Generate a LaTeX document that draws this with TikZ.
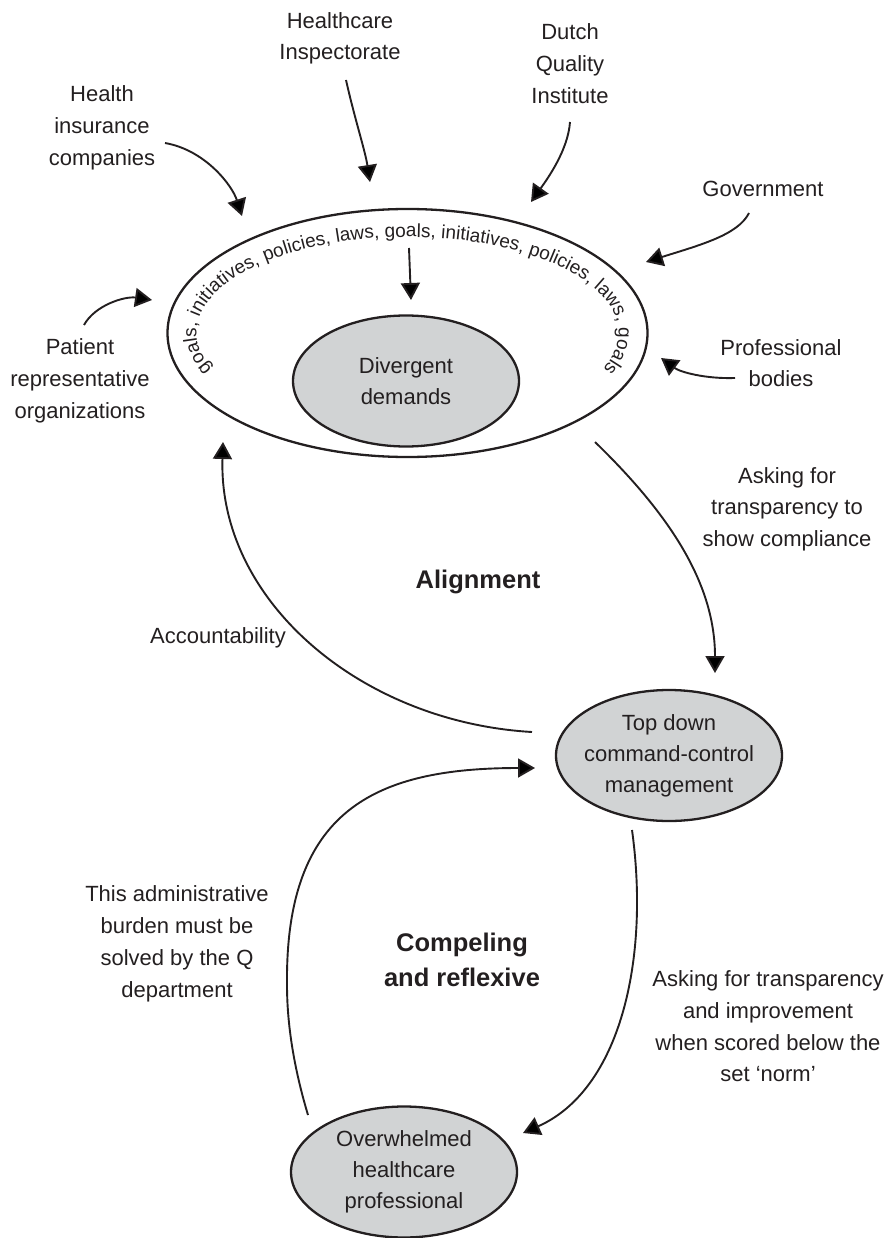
\documentclass[tikz,border=0pt]{standalone}
\usepackage{fontspec}
\setmainfont{Liberation Sans}
\usetikzlibrary{arrows.meta,shapes.geometric,decorations.text}
\definecolor{ink}{RGB}{35,31,32}
\definecolor{fillg}{RGB}{209,211,212}
\newcommand\lbfont{\fontsize{22}{31.7}\selectfont}
\newcommand\bdfont{\fontsize{25.5}{35}\selectfont\bfseries}
\newcommand\ringfont{\fontsize{19}{19}\selectfont}
\begin{document}
\begin{tikzpicture}[x=1pt,y=-1pt,
  lbl/.style={text=ink, font=\lbfont, align=center, inner sep=0pt},
  boldlbl/.style={text=ink, font=\bdfont, align=center, inner sep=0pt},
  gell/.style={ellipse, draw=ink, line width=2.3pt, fill=fillg, minimum width=226pt, minimum height=131pt,
    inner xsep=-40pt, inner ysep=-30pt, text=ink, font=\fontsize{22}{31}\selectfont, align=center},
  arr/.style={draw=ink, line width=1.9pt, -{Triangle[length=17pt,width=19pt]}},
]
\useasboundingbox (0,0) rectangle (889,1238);

% big ellipse
\node[ellipse, draw=ink, line width=2.3pt, minimum width=480pt, minimum height=248pt, inner sep=0pt] (big) at (407.5,333) {};
\path[decorate, decoration={text along path, text align=center, text color=ink,
    text={|\ringfont|goals, initiatives, policies, laws, goals, initiatives, policies, laws, goals}}]
  (big.center) ++(210:211pt and 96pt) arc[start angle=210, end angle=-30, x radius=211pt, y radius=96pt];

% grey ellipses
\node[gell] (dd) at (406,381) {Divergent\\demands};
\node[gell] (tdm) at (669,755.5) {Top down\\command-control\\management};
\node[gell] (ohp) at (404,1172) {Overwhelmed\\healthcare\\professional};

% labels
\node[lbl] (hi) at (340,38.3) {Healthcare\\Inspectorate};
\node[lbl] (dqi) at (570,63.5) {Dutch\\Quality\\Institute};
\node[lbl] (hic) at (102,127.7) {Health\\insurance\\companies};
\node[lbl] (gov) at (763,189) {Government};
\node[lbl] (pb) at (781,363) {Professional\\bodies};
\node[lbl] (pro) at (80,380.8) {Patient\\representative\\organizations};
\node[lbl] (acc) at (218,638) {Accountability};
\node[boldlbl] (ali) at (478,582.4) {Alignment};
\node[lbl] (ask1) at (787,509.3) {Asking for\\transparency to\\show compliance};
\node[lbl] (adm) at (177,943.8) {This administrative\\burden must be\\solved by the Q\\department};
\node[boldlbl] (com) at (462,960) {Compeling\\and reflexive};
\node[lbl] (ask2) at (768,1026.5) {Asking for transparency\\and improvement\\when scored below the\\set ‘norm’};

% connector end points
\coordinate (a1s) at (165,143);  \coordinate (a1e) at (242,216);
\coordinate (a2s) at (346,80);   \coordinate (a2e) at (370,182);
\coordinate (a3s) at (570,122);  \coordinate (a3e) at (531,202);
\coordinate (a4s) at (749,213);  \coordinate (a4e) at (646,262);
\coordinate (a5s) at (735,378);  \coordinate (a5e) at (661,358);
\coordinate (a6s) at (84,325);   \coordinate (a6e) at (152,300);
\coordinate (a7s) at (409,248);  \coordinate (a7e) at (411,300);
\coordinate (a8s) at (595,442);  \coordinate (a8e) at (715,673);
\coordinate (a9s) at (532,732);  \coordinate (a9e) at (223,442);
\coordinate (a10s) at (308,1115); \coordinate (a10e) at (535,768);
\coordinate (a11s) at (632,830); \coordinate (a11e) at (523,1133);

% connectors
\draw[arr] (a1s) .. controls (205,150) and (232,185) .. (a1e);
\draw[arr] (a2s) .. controls (355,120) and (365,150) .. (a2e);
\draw[arr] (a3s) .. controls (568,150) and (548,178) .. (a3e);
\draw[arr] (a4s) .. controls (738,235) and (700,245) .. (a4e);
\draw[arr] (a5s) .. controls (705,379) and (680,372) .. (a5e);
\draw[arr] (a6s) .. controls (95,305) and (125,296) .. (a6e);
\draw[arr] (a7s) -- (a7e);
\draw[arr] (a8s) .. controls (665,510) and (715,580) .. (a8e);
\draw[arr] (a9s) .. controls (360,722) and (218,600) .. (a9e);
\draw[arr] (a10s) .. controls (296,1075) and (287,1030) .. (287,985) .. controls (285,810) and (375,768) .. (a10e);
\draw[arr] (a11s) .. controls (650,960) and (620,1090) .. (a11e);
\end{tikzpicture}
\end{document}
